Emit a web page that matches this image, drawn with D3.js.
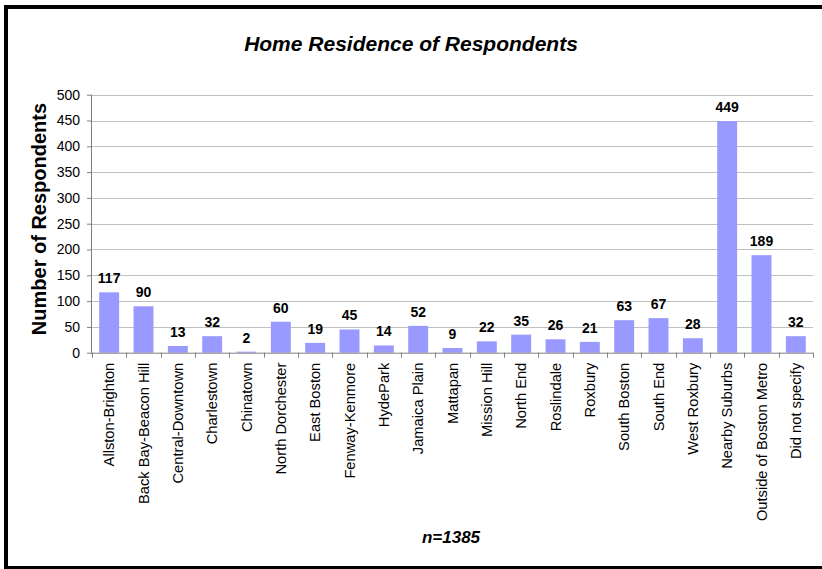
<!DOCTYPE html>
<html>
<head>
<meta charset="utf-8">
<script src="https://cdn.jsdelivr.net/npm/d3@7"></script>
<style>
  html, body { margin: 0; padding: 0; background: #fff; }
  svg { display: block; font-family: "Liberation Sans", Arial, sans-serif; }
</style>
</head>
<body>
<svg id="chart" width="822" height="569"></svg>
<script>
// Neighbourhood categories and respondent counts
const categories = [
  "Allston-Brighton", "Back Bay-Beacon Hill", "Central-Downtown", "Charlestown",
  "Chinatown", "North Dorchester", "East Boston", "Fenway-Kenmore", "HydePark",
  "Jamaica Plain", "Mattapan", "Mission Hill", "North End", "Roslindale",
  "Roxbury", "South Boston", "South End", "West Roxbury", "Nearby Suburbs",
  "Outside of Boston Metro", "Did not specify"
];
const respondents = [117, 90, 13, 32, 2, 60, 19, 45, 14, 52, 9, 22, 35, 26, 21, 63, 67, 28, 449, 189, 32];
const yTicks = [0, 50, 100, 150, 200, 250, 300, 350, 400, 450, 500];
const chartTitle = "Home Residence of Respondents";
const yTitle = "Number of Respondents";
const footnote = "n=1385";

const svg = d3.select("#chart");

// frame (left, top, bottom edges)
svg.append("path")
  .attr("d", "M6,569 V7 H822")
  .attr("fill", "none").attr("stroke", "#000").attr("stroke-width", 4);
svg.append("line")
  .attr("x1", 4).attr("x2", 822).attr("y1", 567.5).attr("y2", 567.5)
  .attr("stroke", "#000").attr("stroke-width", 3);

const plot = { left: 92, right: 813, top: 94.7, bottom: 352.7 };

const x = d3.scaleBand().domain(categories).range([plot.left, plot.right]).padding(0);
const y = d3.scaleLinear().domain([0, 500]).range([plot.bottom, plot.top]);

// gridlines
svg.append("g").selectAll("line").data(yTicks.filter(d => d > 0)).join("line")
  .attr("x1", plot.left).attr("x2", plot.right)
  .attr("y1", d => Math.round(y(d)) + 0.5).attr("y2", d => Math.round(y(d)) + 0.5)
  .attr("stroke", "#c0c0c0").attr("stroke-width", 1);

// bars
const barW = x.bandwidth() * 0.58;
svg.append("g").selectAll("rect").data(respondents).join("rect")
  .attr("x", (d, i) => x(categories[i]) + (x.bandwidth() - barW) / 2)
  .attr("width", barW)
  .attr("y", d => y(d))
  .attr("height", d => y(0) - y(d))
  .attr("fill", "#9999ff");

// value labels
svg.append("g").selectAll("text").data(respondents).join("text")
  .attr("x", (d, i) => x(categories[i]) + x.bandwidth() / 2)
  .attr("y", d => y(d) - 9)
  .attr("text-anchor", "middle")
  .attr("font-size", 14).attr("font-weight", "bold")
  .attr("fill", "#000")
  .text(d => d);

// y axis
const yAxis = svg.append("g")
  .attr("transform", `translate(${plot.left},0)`)
  .call(d3.axisLeft(y).tickValues(yTicks).tickSize(5).tickPadding(7).tickFormat(d3.format("d")));
yAxis.select(".domain").attr("stroke", "#808080").attr("d", `M-0.5,${plot.top}V${plot.bottom}`);
yAxis.selectAll(".tick line").attr("stroke", "#808080");
yAxis.selectAll(".tick text").attr("font-size", 14).attr("fill", "#000")
  .attr("font-family", "'Liberation Sans', Arial, sans-serif");

// x axis: ticks at category boundaries
const xAxisG = svg.append("g").attr("transform", `translate(0,${plot.bottom})`);
xAxisG.append("line")
  .attr("x1", plot.left - 1).attr("x2", plot.right)
  .attr("y1", 0.5).attr("y2", 0.5)
  .attr("stroke", "#808080");
const bounds = categories.map(c => x(c)).concat([plot.right]);
xAxisG.selectAll(".bt").data(bounds).join("line")
  .attr("class", "bt")
  .attr("x1", d => Math.round(d) + 0.5).attr("x2", d => Math.round(d) + 0.5)
  .attr("y1", 0).attr("y2", 5)
  .attr("stroke", "#808080");
xAxisG.selectAll(".cl").data(categories).join("text")
  .attr("class", "cl")
  .attr("transform", d => `translate(${x(d) + x.bandwidth() / 2 + 5},10) rotate(-90)`)
  .attr("text-anchor", "end")
  .attr("font-size", 14.7)
  .attr("fill", "#000")
  .text(d => d);

// titles
svg.append("text")
  .attr("x", 411).attr("y", 51)
  .attr("text-anchor", "middle")
  .attr("font-size", 21).attr("font-weight", "bold").attr("font-style", "italic")
  .text(chartTitle);

svg.append("text")
  .attr("transform", `translate(46,219) rotate(-90)`)
  .attr("text-anchor", "middle")
  .attr("font-size", 20).attr("font-weight", "bold")
  .text(yTitle);

svg.append("text")
  .attr("x", 451).attr("y", 543)
  .attr("text-anchor", "middle")
  .attr("font-size", 17).attr("font-weight", "bold").attr("font-style", "italic")
  .text(footnote);
</script>
</body>
</html>
